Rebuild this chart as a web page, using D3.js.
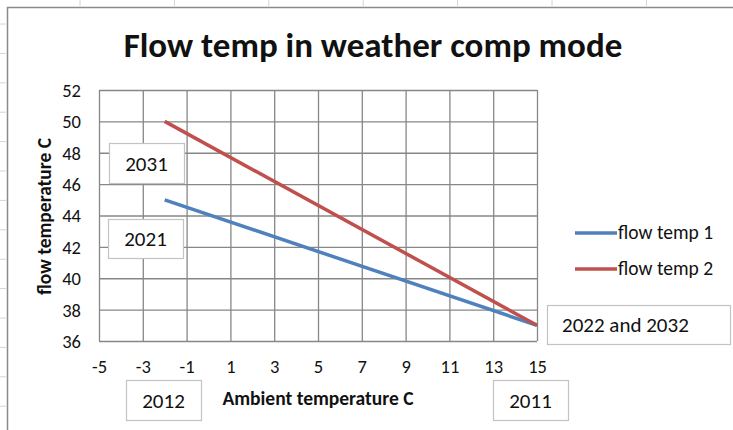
<!DOCTYPE html>
<html>
<head>
<meta charset="utf-8">
<script src="https://cdn.jsdelivr.net/npm/d3@7"></script>
<style>
  body { margin: 0; background: #fff; }
  svg text { font-family: Carlito, Lato, "Open Sans", sans-serif; fill: #111; }
</style>
</head>
<body>
<div id="container"></div>
<script>
/* DATA */
const ambientTemp = [-2, 15];
const flowTemp1 = [45, 37];
const flowTemp2 = [50, 37];
const seriesNames = ["flow temp 1", "flow temp 2"];
const xTickValues = [-5, -3, -1, 1, 3, 5, 7, 9, 11, 13, 15];
const yTickValues = [36, 38, 40, 42, 44, 46, 48, 50, 52];
const noteLabels = ["2031", "2021", "2012", "2011", "2022 and 2032"];

/* CONSTANTS AND GLOBALS */
const width = 733;
const height = 430;
const plot = { left: 99, right: 537, top: 90, bottom: 341 };
const colors = ["#4f81bd", "#c0504d"];
// text boxes sitting on the sheet (x, y, w, h)
const noteBoxes = [
  [109, 143, 75, 40],
  [108, 219, 75, 39],
  [126, 380, 75, 40],
  [493, 380, 75, 40],
  [547, 305, 183, 39]
];

const svg = d3.select("#container")
  .append("svg")
  .attr("width", width)
  .attr("height", height);

/** spreadsheet bits showing round the chart */
svg.append("g")
  .selectAll("line")
  .data(d3.range(7))
  .join("line")
    .attr("x1", i => 80 + i * 94.4)
    .attr("x2", i => 80 + i * 94.4)
    .attr("y1", 0)
    .attr("y2", 6)
    .attr("stroke", "#d4d4d4");

svg.append("g")
  .selectAll("line")
  .data(d3.range(14))
  .join("line")
    .attr("x1", 0)
    .attr("x2", 6)
    .attr("y1", i => 24 + i * 29.4)
    .attr("y2", i => 24 + i * 29.4)
    .attr("stroke", "#d4d4d4");

// chart frame
svg.append("path")
  .attr("d", `M7.5,${height} V7.5 H${width}`)
  .attr("fill", "none")
  .attr("stroke", "#8a8a8a")
  .attr("stroke-width", 1.5);

/* SCALES */
const xScale = d3.scaleLinear()
  .domain([-5, 15])
  .range([plot.left, plot.right]);

const yScale = d3.scaleLinear()
  .domain([36, 52])
  .range([plot.bottom, plot.top]);

/* GRID + AXES */
// plain hyphen for negatives, like the spreadsheet
const xAxis = d3.axisBottom(xScale)
  .tickValues(xTickValues)
  .tickSize(-(plot.bottom - plot.top))
  .tickPadding(19)
  .tickFormat(d => String(d));

const yAxis = d3.axisLeft(yScale)
  .tickValues(yTickValues)
  .tickSize(-(plot.right - plot.left))
  .tickPadding(18)
  .tickFormat(d => String(d));

const gx = svg.append("g")
  .attr("transform", `translate(0, ${plot.bottom})`)
  .call(xAxis);

const gy = svg.append("g")
  .attr("transform", `translate(${plot.left}, 0)`)
  .call(yAxis);

[gx, gy].forEach(g => {
  g.select(".domain").remove();
  g.selectAll(".tick line")
    .attr("stroke", "#878787")
    .attr("stroke-width", 1.3);
  g.selectAll(".tick text")
    .style("font-size", "18.5px")
    .attr("fill", "#111");
});
gy.selectAll(".tick text").attr("dy", "0.35em");

/* LINES */
const line = d3.line()
  .x(d => xScale(d[0]))
  .y(d => yScale(d[1]));

const series = [flowTemp1, flowTemp2].map((vals, i) => ({
  name: seriesNames[i],
  points: ambientTemp.map((t, j) => [t, vals[j]])
}));

svg.append("g")
  .selectAll("path")
  .data(series)
  .join("path")
    .attr("d", d => line(d.points))
    .attr("fill", "none")
    .attr("stroke", (d, i) => colors[i])
    .attr("stroke-width", 3.5);

/* TITLES */
svg.append("text")
  .attr("x", 373)
  .attr("y", 57)
  .attr("text-anchor", "middle")
  .style("font-size", "35px")
  .style("font-weight", "bold")
  .text("Flow temp in weather comp mode");

svg.append("text")
  .attr("x", (plot.left + plot.right) / 2)
  .attr("y", 405)
  .attr("text-anchor", "middle")
  .style("font-size", "19.5px")
  .style("font-weight", "bold")
  .text("Ambient temperature C");

svg.append("text")
  .attr("transform", `translate(51, ${(plot.top + plot.bottom) / 2 + 1}) rotate(-90)`)
  .attr("text-anchor", "middle")
  .style("font-size", "19.5px")
  .style("font-weight", "bold")
  .text("flow temperature C");

/* LEGEND */
const legend = svg.append("g")
  .selectAll("g")
  .data(series)
  .join("g")
    .attr("transform", (d, i) => `translate(575, ${233 + i * 36})`);

legend.append("line")
  .attr("x1", 0)
  .attr("x2", 42)
  .attr("stroke", (d, i) => colors[i])
  .attr("stroke-width", 3.5);

legend.append("text")
  .attr("x", 43)
  .attr("dy", "0.33em")
  .style("font-size", "19.5px")
  .text(d => d.name);

/* TEXT BOXES */
const notes = svg.append("g")
  .selectAll("g")
  .data(noteLabels)
  .join("g")
    .attr("transform", (d, i) => `translate(${noteBoxes[i][0]}, ${noteBoxes[i][1]})`);

notes.append("rect")
  .attr("x", 0.5)
  .attr("y", 0.5)
  .attr("width", (d, i) => noteBoxes[i][2])
  .attr("height", (d, i) => noteBoxes[i][3])
  .attr("fill", "#fff")
  .attr("stroke", "#c3c3c3")
  .attr("stroke-width", 1.2);

notes.append("text")
  .attr("x", (d, i) => i === 4 ? 15 : noteBoxes[i][2] / 2)
  .attr("y", (d, i) => noteBoxes[i][3] / 2 + 1)
  .attr("dy", "0.33em")
  .attr("text-anchor", (d, i) => i === 4 ? "start" : "middle")
  .style("font-size", "21px")
  .text(d => d);
</script>
</body>
</html>
